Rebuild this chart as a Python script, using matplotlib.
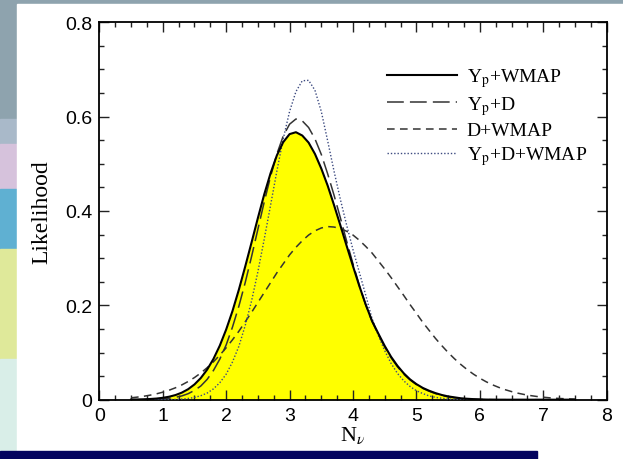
import matplotlib
matplotlib.use("Agg")
import matplotlib.pyplot as plt
from matplotlib.patches import Rectangle
from matplotlib.ticker import MultipleLocator
import numpy as np

plt.rcParams["mathtext.fontset"] = "stix"

# N_nu grid (0.5 .. 7.5, step 0.1)
n_nu = np.round(np.arange(0.5, 7.55, 0.1), 2)

yp_wmap = [0.0002, 0.0004, 0.0008, 0.0015, 0.0024, 0.0040, 0.0063, 0.0098, 0.0149, 0.0222,
           0.0323, 0.0459, 0.0637, 0.0865, 0.1147, 0.1487, 0.188, 0.233, 0.282, 0.333,
           0.385, 0.435, 0.480, 0.518, 0.546, 0.563, 0.567, 0.560, 0.545, 0.521,
           0.490, 0.454, 0.413, 0.370, 0.326, 0.283, 0.241, 0.202, 0.167, 0.140,
           0.114, 0.091, 0.072, 0.056, 0.043, 0.033, 0.025, 0.019, 0.014, 0.010,
           0.007, 0.005, 0.003, 0.002, 0.0012, 0.0007, 0.0003, 0.0001, 0, 0,
           0, 0, 0, 0, 0, 0, 0, 0, 0, 0, 0]

yp_d = [0.0001, 0.0002, 0.0003, 0.0005, 0.001, 0.0017, 0.003, 0.005, 0.008, 0.0127,
        0.0196, 0.029, 0.043, 0.062, 0.086, 0.116, 0.154, 0.198, 0.248, 0.303,
        0.361, 0.419, 0.473, 0.521, 0.559, 0.584, 0.595, 0.591, 0.577, 0.553,
        0.520, 0.479, 0.434, 0.386, 0.336, 0.288, 0.242, 0.201, 0.166, 0.138,
        0.112, 0.089, 0.070, 0.054, 0.042, 0.032, 0.024, 0.018, 0.013, 0.009,
        0.006, 0.004, 0.0025, 0.0015, 0.0009, 0.0005, 0.0002, 0.0001, 0, 0,
        0, 0, 0, 0, 0, 0, 0, 0, 0, 0, 0]

d_wmap = [0.004, 0.0055, 0.0073, 0.0096, 0.0124, 0.0159, 0.0201, 0.0252, 0.0313, 0.0385,
          0.0469, 0.0566, 0.0678, 0.0804, 0.0945, 0.110, 0.127, 0.145, 0.165, 0.185,
          0.206, 0.227, 0.248, 0.269, 0.288, 0.307, 0.323, 0.337, 0.349, 0.358,
          0.364, 0.367, 0.366, 0.363, 0.357, 0.349, 0.338, 0.325, 0.311, 0.294,
          0.277, 0.259, 0.240, 0.221, 0.2015, 0.183, 0.164, 0.147, 0.130, 0.1146,
          0.100, 0.0868, 0.0747, 0.0638, 0.0541, 0.0455, 0.038, 0.0315, 0.026, 0.0212,
          0.0172, 0.0138, 0.011, 0.0087, 0.0068, 0.0053, 0.004, 0.003, 0.0023, 0.0017, 0.0012]

yp_d_wmap = [0, 0, 0, 0, 0, 0.0001, 0.0002, 0.0006, 0.0013, 0.0026,
             0.0048, 0.0084, 0.014, 0.023, 0.036, 0.054, 0.080, 0.113, 0.157, 0.209,
             0.271, 0.340, 0.412, 0.485, 0.553, 0.611, 0.653, 0.676, 0.677, 0.656,
             0.611, 0.549, 0.485, 0.425, 0.370, 0.318, 0.270, 0.222, 0.172, 0.136,
             0.104, 0.077, 0.056, 0.040, 0.028, 0.019, 0.013, 0.008, 0.005, 0.003,
             0.0015, 0.0007, 0.0003, 0.0001, 0, 0, 0, 0, 0, 0,
             0, 0, 0, 0, 0, 0, 0, 0, 0, 0, 0]

labels = [r"Y$_\mathrm{p}$+WMAP", r"Y$_\mathrm{p}$+D", "D+WMAP", r"Y$_\mathrm{p}$+D+WMAP"]
x_ticks = [0, 1, 2, 3, 4, 5, 6, 7, 8]
y_ticks = [0, 0.2, 0.4, 0.6, 0.8]
y_tick_labels = ["0", "0.2", "0.4", "0.6", "0.8"]

fig = plt.figure(figsize=(6.23, 4.60), dpi=100, facecolor="#8ea3ae")

# backdrop: slide-like frame around the plot
def fig_rect(x0, y0, w, h, color):
    fig.patches.append(Rectangle((x0 / 623, 1 - (y0 + h) / 460), w / 623, h / 460,
                                 transform=fig.transFigure, color=color, zorder=-10))

fig_rect(0, 120, 17, 40, "#a9b9c9")
fig_rect(0, 145, 17, 45, "#d6c2dc")
fig_rect(0, 190, 17, 60, "#5fb0d2")
fig_rect(0, 250, 17, 110, "#dfe99a")
fig_rect(0, 360, 17, 92, "#d9eee8")
fig_rect(17, 5, 606, 455, "white")
fig_rect(0, 452, 537, 8, "#03035e")

ax = fig.add_axes([99.3 / 623, 1 - 400.7 / 460, 507.4 / 623, 377.4 / 460])

ax.fill_between(n_nu, yp_wmap, 0, color="#ffff00", lw=0, zorder=1)
ax.plot(n_nu, yp_wmap, color="black", lw=1.5, label=labels[0], zorder=4)
ax.plot(n_nu, yp_d, color="#333333", lw=1.1, dashes=(11, 4), label=labels[1], zorder=3)
ax.plot(n_nu, d_wmap, color="#333333", lw=1.1, dashes=(5, 3.5), label=labels[2], zorder=3)
ax.plot(n_nu, yp_d_wmap, color="#3c4a80", lw=1.0, dashes=(1, 1.4), label=labels[3], zorder=3)

ax.set_xlim(0, 8)
ax.set_ylim(0, 0.8)
ax.set_xticks(x_ticks)
ax.set_xticklabels([str(v) for v in x_ticks])
ax.set_yticks(y_ticks)
ax.set_yticklabels(y_tick_labels)
ax.xaxis.set_minor_locator(MultipleLocator(0.25))
ax.yaxis.set_minor_locator(MultipleLocator(0.05))
ax.tick_params(which="both", direction="in", top=True, right=True, width=1.0, color="#222222")
ax.tick_params(which="major", length=7, labelsize=14, pad=5)
ax.tick_params(which="minor", length=3.5)
for lab in ax.get_xticklabels() + ax.get_yticklabels():
    lab.set_family("Liberation Sans")
for sp in ax.spines.values():
    sp.set_linewidth(1.3)

ax.set_xlabel(r"N$_\nu$", family="Liberation Serif", fontsize=16, labelpad=0)
ax.set_ylabel("Likelihood", family="Liberation Serif", fontsize=17, labelpad=9)

leg = ax.legend(loc="upper right", bbox_to_anchor=(0.995, 0.93), frameon=False,
                prop={"family": "Liberation Serif", "size": 14},
                handlelength=3.6, handletextpad=0.5, labelspacing=0.25)

fig.savefig("out.png", dpi=100, facecolor=fig.get_facecolor())
